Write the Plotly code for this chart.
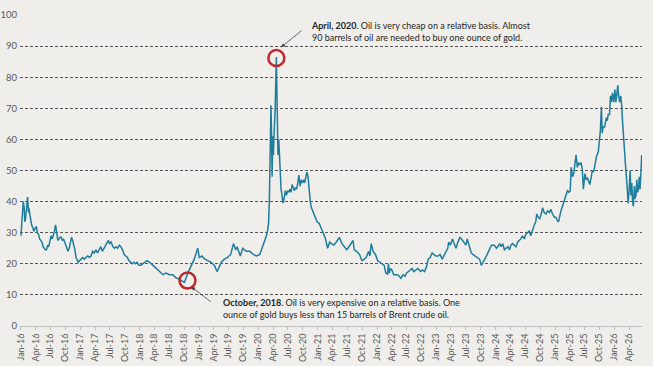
import plotly.graph_objects as go

dates = [
 "2016-01-01","2016-01-06","2016-01-11","2016-01-15","2016-01-20","2016-01-25","2016-01-29","2016-02-03","2016-02-08","2016-02-11",
 "2016-02-16","2016-02-19","2016-02-24","2016-03-01","2016-03-07","2016-03-14","2016-03-21","2016-03-28","2016-04-04","2016-04-11",
 "2016-04-18","2016-04-25","2016-05-02","2016-05-09","2016-05-16","2016-05-23","2016-05-30","2016-06-06","2016-06-13","2016-06-20",
 "2016-06-27","2016-07-04","2016-07-11","2016-07-18","2016-07-25","2016-08-01","2016-08-08","2016-08-15","2016-08-22","2016-08-29",
 "2016-09-05","2016-09-12","2016-09-19","2016-09-26","2016-10-03","2016-10-10","2016-10-17","2016-10-24","2016-10-31","2016-11-07",
 "2016-11-14","2016-11-21","2016-11-28","2016-12-05","2016-12-12","2016-12-19","2016-12-26",
 "2017-01-05","2017-01-15","2017-01-25","2017-02-05","2017-02-15","2017-02-25","2017-03-07","2017-03-17","2017-03-27","2017-04-06",
 "2017-04-16","2017-04-26","2017-05-06","2017-05-16","2017-05-26","2017-06-05","2017-06-15","2017-06-22","2017-06-29","2017-07-09",
 "2017-07-19","2017-07-29","2017-08-08","2017-08-18","2017-08-28","2017-09-07","2017-09-17","2017-09-27","2017-10-07","2017-10-17",
 "2017-10-27","2017-11-06","2017-11-16","2017-11-26","2017-12-06","2017-12-16","2017-12-26",
 "2018-01-08","2018-01-18","2018-02-01","2018-02-14","2018-03-03","2018-03-24","2018-04-12","2018-05-03","2018-05-24","2018-06-12",
 "2018-07-03","2018-07-24","2018-08-12","2018-09-03","2018-09-18","2018-10-03","2018-10-24","2018-11-12","2018-12-03","2018-12-24",
 "2019-01-03","2019-01-18","2019-02-06","2019-02-24","2019-03-15","2019-04-06","2019-04-22","2019-05-06","2019-05-18","2019-06-06",
 "2019-06-24","2019-07-15","2019-08-01","2019-08-15","2019-08-24","2019-09-12","2019-09-27","2019-10-18","2019-11-10","2019-12-01",
 "2019-12-22","2020-01-10","2020-01-31","2020-02-10","2020-02-20","2020-02-28","2020-03-04","2020-03-09","2020-03-12","2020-03-16",
 "2020-03-19","2020-03-23","2020-03-26","2020-03-30","2020-04-03","2020-04-08","2020-04-14","2020-04-21","2020-04-24","2020-04-28",
 "2020-05-01","2020-05-06","2020-05-11","2020-05-15","2020-05-20","2020-05-26","2020-06-01","2020-06-08","2020-06-15","2020-06-22",
 "2020-06-29","2020-07-06","2020-07-13","2020-07-20","2020-07-27","2020-08-03","2020-08-10","2020-08-17","2020-08-24","2020-08-31",
 "2020-09-07","2020-09-14","2020-09-21","2020-09-28","2020-10-05","2020-10-12","2020-10-19","2020-10-26","2020-11-02","2020-11-09",
 "2020-11-16","2020-11-23","2020-11-30","2020-12-07","2020-12-14","2020-12-21","2020-12-28",
 "2021-01-10","2021-01-24","2021-02-03","2021-02-15","2021-03-03","2021-03-15","2021-03-25","2021-04-10","2021-04-25","2021-05-14",
 "2021-05-30","2021-06-15","2021-06-28","2021-07-12","2021-07-25","2021-08-06","2021-08-14","2021-08-28","2021-09-15","2021-09-30",
 "2021-10-15","2021-10-26","2021-11-10","2021-11-18","2021-11-26","2021-12-08","2021-12-22",
 "2022-01-05","2022-01-18","2022-02-01","2022-02-14","2022-02-24","2022-03-07","2022-03-12","2022-03-17","2022-03-24","2022-04-02",
 "2022-04-14","2022-04-25","2022-05-06","2022-05-18","2022-05-28","2022-06-10","2022-06-22","2022-07-01","2022-07-14","2022-07-24",
 "2022-08-05","2022-08-15","2022-08-28","2022-09-10","2022-09-26","2022-10-08","2022-10-20","2022-11-01","2022-11-12","2022-11-24",
 "2022-12-06","2022-12-16","2022-12-28",
 "2023-01-12","2023-01-24","2023-02-06","2023-02-20","2023-03-03","2023-03-12","2023-03-18","2023-03-28","2023-04-10","2023-04-20",
 "2023-05-02","2023-05-14","2023-05-26","2023-06-12","2023-06-24","2023-07-02","2023-07-10","2023-07-20","2023-08-04","2023-08-14",
 "2023-08-28","2023-09-08","2023-09-24","2023-10-05","2023-10-16","2023-10-24","2023-11-05","2023-11-14","2023-11-26","2023-12-06",
 "2023-12-24",
 "2024-01-06","2024-01-14","2024-01-26","2024-02-04","2024-02-14","2024-02-24","2024-03-05","2024-03-16","2024-03-26","2024-04-04",
 "2024-04-14","2024-04-26","2024-05-05","2024-05-16","2024-05-26","2024-06-04","2024-06-14","2024-06-26","2024-07-05","2024-07-16",
 "2024-07-26","2024-08-04","2024-08-14","2024-08-26","2024-09-04","2024-09-10","2024-09-18","2024-09-28","2024-10-08","2024-10-16",
 "2024-10-26","2024-11-06","2024-11-16","2024-11-28","2024-12-06","2024-12-16","2024-12-28",
 "2025-01-06","2025-01-14","2025-01-22","2025-02-06","2025-02-16","2025-02-26","2025-03-06","2025-03-18","2025-03-28","2025-04-04",
 "2025-04-10","2025-04-18","2025-04-26","2025-05-04","2025-05-10","2025-05-18","2025-05-26","2025-06-02","2025-06-10","2025-06-18",
 "2025-06-24","2025-07-04","2025-07-12","2025-07-20","2025-08-03","2025-08-12","2025-08-18","2025-08-26","2025-09-05","2025-09-13",
 "2025-09-24","2025-10-01","2025-10-07","2025-10-13","2025-10-18","2025-10-24","2025-11-02","2025-11-12","2025-11-18","2025-11-24",
 "2025-12-02","2025-12-08","2025-12-14","2025-12-20","2025-12-28",
 "2026-01-04","2026-01-10","2026-01-15","2026-01-22","2026-01-27","2026-02-03","2026-02-09","2026-02-15","2026-02-20","2026-02-26",
 "2026-03-04","2026-03-10","2026-03-16","2026-03-22","2026-03-27","2026-04-02","2026-04-08","2026-04-13","2026-04-18","2026-04-23",
 "2026-04-28","2026-05-04","2026-05-09","2026-05-14","2026-05-19","2026-05-24","2026-05-29","2026-06-03","2026-06-08","2026-06-13",
 "2026-06-18",
]

ratio = [
 29,33,36.5,40,38.5,33.5,34.5,37.5,39,41.5,
 36.5,38,36,34,32.5,31.5,30.5,31.5,32,30,
 29.5,28,27.5,27,25.5,25,24.5,24.5,26,25.5,
 28,29,28,29,30.5,32.5,29.5,27.5,28,28.5,
 28.5,27.5,28,27,26,24.5,24,25,26.5,28.5,
 27.5,26,24.5,22,21,20.5,21,
 21.5,22,21.5,22,22.5,22,22.5,24,23.5,24.5,
 23.5,24.5,25.5,24,25,25.5,26.5,27.5,26.5,27,
 25.5,25,25.5,25,26,25.5,24.5,23,22.5,22,
 21,20.5,20,20.5,20,20.5,19.5,
 19.5,19.8,20.5,21,20.5,19.5,18.5,17.5,16.5,17,
 16.5,16.5,15.5,15,14.5,14,17,19,21.5,25,
 22,22.5,21.5,21,20.5,19.5,17.5,19,20.5,21.5,
 22,23,26.5,24.5,25.5,22.5,25,24,24,23,
 22.5,23,26,27.5,29,31,33,40,47,58,
 71,60,48,61,55,63,70,86.5,70,66,
 55,60,52,50,44,42,39.5,41,43.5,42,
 43.5,43,44,43,45.5,44.5,43.5,44.5,44,46,
 48.5,45,47,46,47,46,47.5,49.5,48,43,
 40,38,37,36,35,34.5,33.5,
 33,31,30,28.5,25,27,26.5,26,27,28.5,
 26.5,25.5,24.5,25.5,26.5,27.5,24.5,24,23,21,
 21.5,22,24,22.5,26.5,24,23,
 21,20.5,20,19.5,17,16.7,20,17,18.5,18,
 16.5,16.5,16.5,16,15.3,16.5,16,17,17.5,18,
 18.5,17.5,18,18.5,17.5,18,17.5,19,21.5,22,
 23.5,23,22.5,
 22.5,23,21.5,23,24,25,27,26,28,26.5,
 25,27,28.5,27.5,26.5,26,28,26,23.5,23,
 22.5,22,21.5,19.5,20.5,21,22.5,23.5,25,26,
 26,
 25,25.5,26.5,25.5,26.5,24.5,25,25.5,24.5,26,
 26.5,26,25.5,27,27.5,28,29,28,29.5,30,
 30.5,29,31,32.5,33.5,36,35,34.5,36,38,
 36.5,36,37,36.5,37.5,36,35,
 35,34,33.5,37,38.5,40,41.5,43.5,43,43.5,
 51,48,49,52,55,51,52.5,52,52.5,50,
 44,49,47,47.5,45.5,48,50,49.5,52,54.5,
 56,59.5,63,70.5,62,64,64,67,66,68,
 68,74,72,75,72,
 76,72,74,77.5,74,72,74,71,66,60,
 57,52,48,44,39.5,44,50,42,46,40,
 38.5,45,41,42,47,43,44,48,44,49,
 55,
]

FONT = "Lato, 'Open Sans', sans-serif"

fig = go.Figure()
fig.add_trace(go.Scatter(
    x=dates, y=ratio, mode="lines",
    line=dict(color="#1f7d9c", width=1.5),
    hoverinfo="skip", showlegend=False,
))

# red highlight circles
circle_x = ["2020-04-21", "2018-10-22"]
circle_y = [86.2, 14.6]
fig.add_trace(go.Scatter(
    x=circle_x, y=circle_y, mode="markers",
    marker=dict(symbol="circle-open", size=16, color="#c0282d", line=dict(width=2.5, color="#c0282d")),
    hoverinfo="skip", showlegend=False,
))

# arrows
fig.add_annotation(
    x="2020-05-20", y=89.6, xref="x", yref="y",
    ax=22, ay=-18, text="", showarrow=True,
    arrowhead=2, arrowsize=1, arrowwidth=0.8, arrowcolor="#444",
)
fig.add_annotation(
    x="2018-11-14", y=12.6, xref="x", yref="y",
    ax=21, ay=16, text="", showarrow=True,
    arrowhead=2, arrowsize=1, arrowwidth=0.8, arrowcolor="#444",
)
fig.add_annotation(
    x="2020-11-05", y=94.6, xref="x", yref="y", xanchor="left", yanchor="middle",
    text="<b>April, 2020</b>. Oil is very cheap on a relative basis. Almost<br>90 barrels of oil are needed to buy one ounce of gold.",
    showarrow=False, align="left",
    font=dict(family=FONT, size=9, color="#262626"),
)
fig.add_annotation(
    x="2019-05-14", y=5.5, xref="x", yref="y", xanchor="left", yanchor="middle",
    text="<b>October, 2018</b>. Oil is very expensive on a relative basis. One<br>ounce of gold buys less than 15 barrels of Brent crude oil.",
    showarrow=False, align="left",
    font=dict(family=FONT, size=9, color="#262626"),
)

fig.update_layout(
    width=653, height=366,
    margin=dict(l=20, r=11, t=15, b=40, autoexpand=False),
    paper_bgcolor="#efeeea", plot_bgcolor="#efeeea",
    font=dict(family=FONT),
)
fig.update_xaxes(
    type="date", range=["2015-12-26", "2026-06-20"],
    tick0="2016-01-01", dtick="M3", tickformat="%b-%y", tickangle=-90,
    tickfont=dict(family=FONT, size=9, color="#595959"),
    showgrid=False, showline=True, linecolor="#bfbfbf", linewidth=1,
    ticks="outside", ticklen=3, tickcolor="#bfbfbf", zeroline=False,
    automargin=False,
)
fig.update_yaxes(
    range=[0, 100], dtick=10, tick0=0,
    tickfont=dict(family=FONT, size=9.5, color="#595959"),
    showgrid=True, gridcolor="#555555", gridwidth=1,
    griddash="3px,2px", zeroline=False, showline=False, ticks="",
    ticklabelstandoff=2, automargin=False,
)

fig.write_html("out.html")
